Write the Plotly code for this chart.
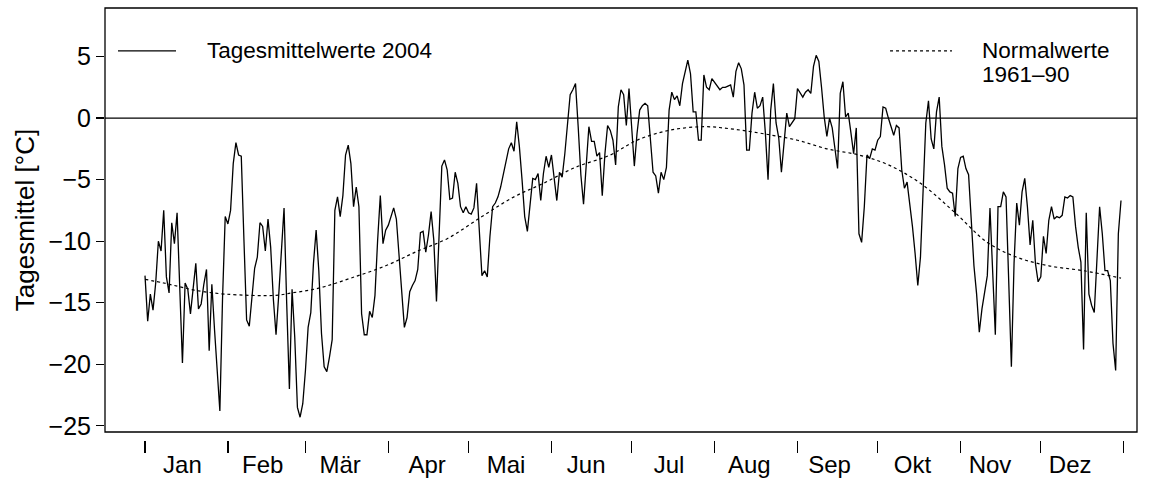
import plotly.graph_objects as go

days = list(range(1, 367))
tagesmittel_2004 = [
    -12.8, -16.5, -14.3, -15.6, -13.4, -10.0, -10.8, -7.5, -12.9, -14.2,
    -8.5, -10.2, -7.7, -13.8, -19.9, -13.4, -13.9, -15.9, -13.9, -11.8,
    -15.5, -15.1, -13.5, -12.3, -18.9, -13.5, -17.2, -20.5, -23.8, -14.6,
    -8.0, -8.6, -7.5, -3.7, -2.0, -3.0, -3.1, -9.9, -16.4, -16.9,
    -14.4, -12.2, -11.3, -8.5, -8.8, -10.8, -8.2, -10.5, -14.7, -17.6,
    -14.4, -10.5, -7.3, -15.1, -22.0, -13.9, -17.8, -23.5, -24.3, -23.2,
    -20.5, -17.0, -15.8, -11.8, -9.1, -12.4, -17.5, -20.2, -20.6, -19.4,
    -18.0, -7.5, -6.4, -8.0, -6.3, -3.0, -2.2, -3.7, -7.2, -5.6,
    -7.2, -15.9, -17.6, -17.6, -15.7, -16.2, -14.4, -9.9, -6.3, -10.2,
    -9.1, -8.7, -7.9, -7.3, -8.2, -11.0, -13.7, -17.0, -16.2, -14.1,
    -13.6, -13.2, -12.3, -9.3, -9.2, -10.9, -9.5, -7.6, -9.9, -14.9,
    -9.4, -3.9, -3.4, -4.2, -6.6, -6.5, -4.4, -5.3, -7.2, -7.7,
    -7.2, -7.7, -7.8, -7.3, -5.3, -9.1, -12.8, -12.4, -12.9, -9.6,
    -7.2, -6.9, -6.4, -5.6, -4.6, -3.4, -2.5, -2.0, -2.7, -0.3,
    -2.3, -5.0, -8.0, -9.2, -6.9, -4.9, -5.0, -4.5, -6.7, -4.5,
    -3.1, -4.0, -3.0, -5.0, -6.7, -4.4, -4.8, -2.9, -0.7, 1.9,
    2.3, 2.8, -0.7, -4.6, -7.0, -3.7, -0.7, -1.9, -1.9, -3.1,
    -2.8, -6.3, -2.9, -0.6, -1.0, -1.8, -3.8, 0.9, 2.3, 1.9,
    -0.6, 2.4, -0.4, -3.9, -1.25, 0.65, 1.0, 1.2, 1.0, -1.5,
    -4.4, -4.7, -6.1, -4.4, -5.0, -4.0, 0.65, 2.1, 1.5, 1.8,
    1.0, 2.8, 3.9, 4.7, 3.6, 0.5, 0.5, -1.8, -1.8, 3.5,
    2.5, 2.3, 3.2, 2.9, 2.7, 2.3, 2.5, 2.5, 2.6, 2.7,
    1.7, 3.8, 4.5, 4.0, 2.7, -2.6, -2.6, 0.4, 2.1, 0.8,
    1.0, 1.7, -1.2, -5.0, 0.65, 2.8, -0.4, -1.6, -4.4, -1.8,
    0.4, -0.7, -0.4, -0.05, 2.4, 2.0, 1.7, 2.1, 2.3, 2.0,
    4.2, 5.1, 4.6, 2.5, 0.1, -1.5, 0.0, -0.8, -2.6, -4.1,
    2.0, 2.95, 0.1, 0.4, -1.2, -2.9, -0.8, -9.4, -10.1, -7.2,
    -3.0, -3.3, -2.5, -2.6, -1.8, -1.5, 0.9, 0.8, 0.0, -0.8,
    -1.4, -0.6, -0.8, -4.2, -5.7, -5.2, -6.9, -8.8, -11.0, -13.6,
    -11.3, -5.6, -0.4, 1.4, -1.7, -2.5, 0.5, 1.7, -2.3, -3.8,
    -5.7, -6.0, -6.1, -8.0, -4.1, -3.2, -3.1, -4.1, -4.6, -8.3,
    -12.0, -14.3, -17.4, -15.5, -14.0, -12.8, -7.3, -13.2, -17.6, -7.2,
    -7.2, -6.0, -6.4, -13.2, -20.2, -11.8, -6.9, -8.7, -6.0, -4.9,
    -7.2, -10.3, -8.3, -11.8, -13.3, -12.9, -9.6, -11.0, -8.3, -7.2,
    -8.2, -8.0, -8.1, -7.9, -6.4, -6.5, -6.3, -6.4, -8.8, -10.5,
    -11.7, -18.8, -7.7, -14.3, -15.2, -15.8, -11.0, -7.2, -9.4, -12.4,
    -12.4, -13.2, -18.3, -20.5, -9.4, -6.7,
]

normal_days = [1, 8, 14, 20, 31, 50, 56, 62, 68, 78, 91, 103, 114, 127, 139,
               150, 162, 175, 185, 197, 210, 221, 233, 245, 256, 268, 279,
               291, 304, 316, 327, 339, 352, 366]
normalwerte_1961_90 = [-13.1, -13.4, -13.7, -14.0, -14.3, -14.4, -14.2, -14.0,
                       -13.7, -13.0, -12.0, -10.8, -9.8, -8.0, -6.4, -5.3, -4.0,
                       -3.0, -1.8, -1.0, -0.7, -0.9, -1.3, -1.8, -2.5, -3.0,
                       -3.8, -5.3, -7.7, -10.1, -11.3, -12.0, -12.4, -13.0]

month_starts = [1, 32, 61, 92, 122, 153, 183, 214, 245, 275, 306, 336, 367]
month_label_pos = [15, 45, 74, 106.5, 136, 166, 197, 227, 257, 288, 317, 347]
month_labels = ["Jan", "Feb", "Mär", "Apr", "Mai", "Jun", "Jul", "Aug",
                "Sep", "Okt", "Nov", "Dez"]
y_ticks = [-25, -20, -15, -10, -5, 0, 5]

FONT = "Liberation Sans, Arial, Helvetica, sans-serif"

fig = go.Figure()
fig.add_trace(go.Scatter(x=days, y=tagesmittel_2004, mode="lines",
                         line=dict(color="black", width=1.3),
                         showlegend=False, hoverinfo="skip"))
fig.add_trace(go.Scatter(x=normal_days, y=normalwerte_1961_90, mode="lines",
                         line=dict(color="black", width=1.2, dash="3px,3px",
                                   shape="spline"),
                         showlegend=False, hoverinfo="skip"))

# zero line
fig.add_shape(type="line", xref="paper", yref="y", x0=0, x1=1, y0=0, y1=0,
              line=dict(color="black", width=1.3))
# box
fig.add_shape(type="rect", xref="paper", yref="y domain", x0=0, x1=1, y0=0, y1=1,
              line=dict(color="black", width=1.3))

# legend
LEG = 22.5
fig.add_shape(type="line", xref="paper", yref="y", x0=0.0126, x1=0.0688,
              y0=5.45, y1=5.45, line=dict(color="black", width=1.3))
fig.add_annotation(xref="paper", yref="y", x=0.0969, y=5.45, xanchor="left",
                   yanchor="middle", showarrow=False, text="Tagesmittelwerte 2004",
                   font=dict(family=FONT, size=LEG, color="black"))
fig.add_shape(type="line", xref="paper", yref="y", x0=0.7607, x1=0.8207,
              y0=5.45, y1=5.45, line=dict(color="black", width=1.2, dash="3px,3px"))
fig.add_annotation(xref="paper", yref="y", x=0.8479, y=5.45, xanchor="left",
                   yanchor="middle", showarrow=False, text="Normalwerte",
                   font=dict(family=FONT, size=LEG, color="black"))
fig.add_annotation(xref="paper", yref="y", x=0.8479, y=3.55, xanchor="left",
                   yanchor="middle", showarrow=False, text="1961\u201390",
                   font=dict(family=FONT, size=LEG, color="black"))

fig.update_layout(
    width=1158, height=479,
    margin=dict(l=105, r=21, t=8, b=39, autoexpand=False),
    paper_bgcolor="white", plot_bgcolor="white",
    font=dict(family=FONT, size=25, color="black"),
    xaxis=dict(range=[-13.96, 371.98], anchor="free", position=0,
               automargin=False,
               showline=False, showgrid=False, zeroline=False,
               tickmode="array", tickvals=month_label_pos, ticktext=month_labels,
               ticks="outside", ticklen=3, tickcolor="rgba(0,0,0,0)",
               tickfont=dict(family=FONT, size=24, color="black"),
               minor=dict(tickmode="array", tickvals=month_starts,
                          ticks="outside", ticklen=12, tickwidth=1.3,
                          tickcolor="black", showgrid=False)),
    yaxis=dict(range=[-25.5, 8.94], domain=[8 / 432, 1],
               automargin=False,
               showline=False, showgrid=False, zeroline=False,
               tickmode="array", tickvals=y_ticks,
               ticks="outside", ticklen=8, tickwidth=1.3, tickcolor="black",
               tickfont=dict(family=FONT, size=25, color="black"),
               title=dict(text="Tagesmittel [°C]", standoff=6,
                          font=dict(family=FONT, size=26, color="black"))),
)

fig.write_html("out.html",
               config={"displayModeBar": False, "staticPlot": True},
               post_script="document.body.style.margin='0';"
                           "document.body.style.overflow='hidden';")
